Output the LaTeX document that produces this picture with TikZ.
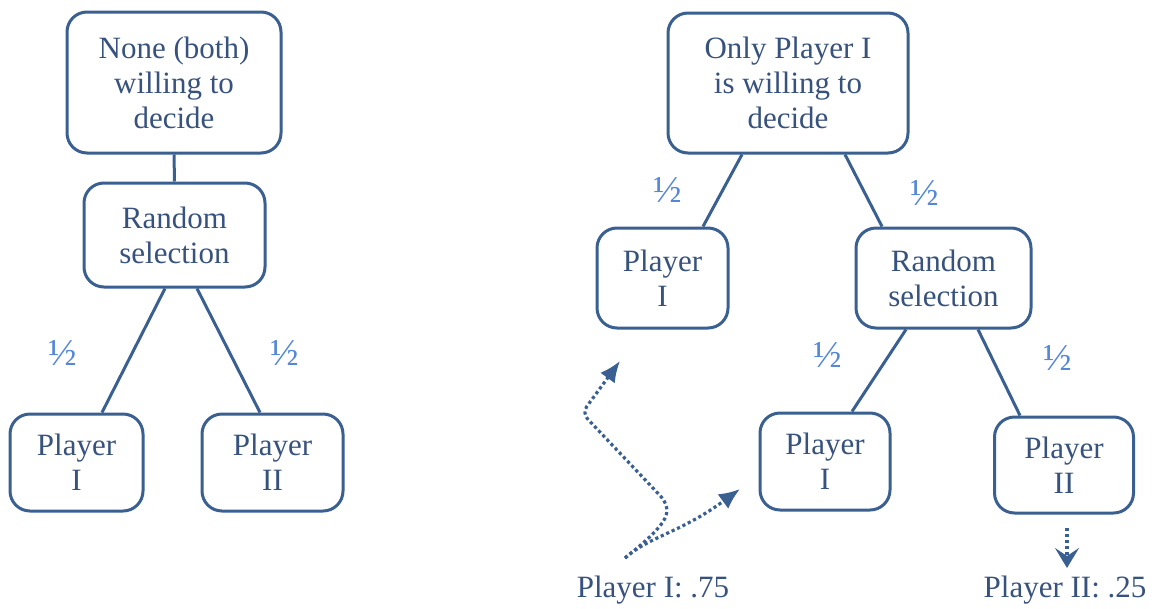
\documentclass[tikz,border=0pt]{standalone}
\usepackage{fontspec}
\setmainfont{Liberation Serif}
\usetikzlibrary{arrows.meta,calc}
\definecolor{bord}{RGB}{58,96,145}
\definecolor{txt}{RGB}{55,82,125}
\definecolor{half}{RGB}{85,135,215}
\tikzset{
  box/.style={draw=bord, line width=3pt, rounded corners=20pt, align=center,
    inner sep=0pt, text=txt, font=\fontsize{31}{35}\selectfont},
  conn/.style={draw=bord, line width=3pt},
  prob/.style={text=half, font=\fontsize{38}{40}\selectfont, inner sep=0pt},
  lab/.style={text=txt, font=\fontsize{31}{35}\selectfont, inner sep=0pt},
  dotarrow/.style={draw=bord, line width=3.2pt, dash pattern=on 3.2pt off 2.8pt,
    -{Latex[length=21pt,width=18pt]}},
  downarrow/.style={draw=bord, line width=3.2pt, dash pattern=on 3.2pt off 2.8pt,
    -{Stealth[length=20pt,width=24pt,inset=8pt]}}
}
\begin{document}
\begin{tikzpicture}[x=1pt,y=-1pt]
\useasboundingbox (0,0) rectangle (1161,608);
% left tree
\node[box, minimum width=214pt, minimum height=141pt] (n1) at (174,82.5) {None (both)\\willing to\\decide};
\node[box, minimum width=181pt, minimum height=104pt] (r1) at (174.5,235) {Random\\selection};
\node[box, minimum width=133pt, minimum height=97pt] (p1) at (76.5,462.5) {Player\\I};
\node[box, minimum width=141pt, minimum height=97pt] (p2) at (272.5,462.5) {Player\\II};
\draw[conn] (n1.south) -- (r1.north);
\draw[conn] ([xshift=-9.5pt]r1.south) -- ([xshift=25.5pt]p1.north);
\draw[conn] ([xshift=22.5pt]r1.south) -- ([xshift=-12.5pt]p2.north);
\node[prob] (h1) at (63,353) {½};
\node[prob] (h2) at (285,353) {½};
% right tree
\node[box, minimum width=240pt, minimum height=140pt] (n2) at (788,83) {Only Player I\\is willing to\\decide};
\node[box, minimum width=131pt, minimum height=100pt] (q1) at (662.5,278) {Player\\I};
\node[box, minimum width=175pt, minimum height=100pt] (r2) at (943.5,278) {Random\\selection};
\node[box, minimum width=130pt, minimum height=97pt] (q2) at (825,461.5) {Player\\I};
\node[box, minimum width=139pt, minimum height=96pt] (q3) at (1064,465) {Player\\II};
\draw[conn] ([xshift=-46pt]n2.south) -- ([xshift=40.5pt]q1.north);
\draw[conn] ([xshift=57pt]n2.south) -- ([xshift=-61.5pt]r2.north);
\draw[conn] ([xshift=-37.5pt]r2.south) -- ([xshift=27pt]q2.north);
\draw[conn] ([xshift=34.5pt]r2.south) -- ([xshift=-44pt]q3.north);
\node[prob] (h3) at (668,190) {½};
\node[prob] (h4) at (925,193) {½};
\node[prob] (h5) at (828,355) {½};
\node[prob] (h6) at (1058,358) {½};
% outcome labels and arrows
\node[lab] (l1) at (653,590) {Player I: .75};
\node[lab] (l2) at (1065,590) {Player II: .25};
\coordinate (s1) at (625,558);
\coordinate (t1) at (620,361);
\coordinate (t2) at (740,489);
\coordinate (d1) at (1067,528);
\coordinate (d2) at (1067,568);
\draw[dotarrow, rounded corners=8pt] (s1) .. controls (650,538) and (667,522) .. (667,503) -- (582,413) -- (t1);
\draw[dotarrow] (s1) .. controls (650,536) and (680,533) .. (t2);
\draw[downarrow] (d1) -- (d2);
\end{tikzpicture}
\end{document}
